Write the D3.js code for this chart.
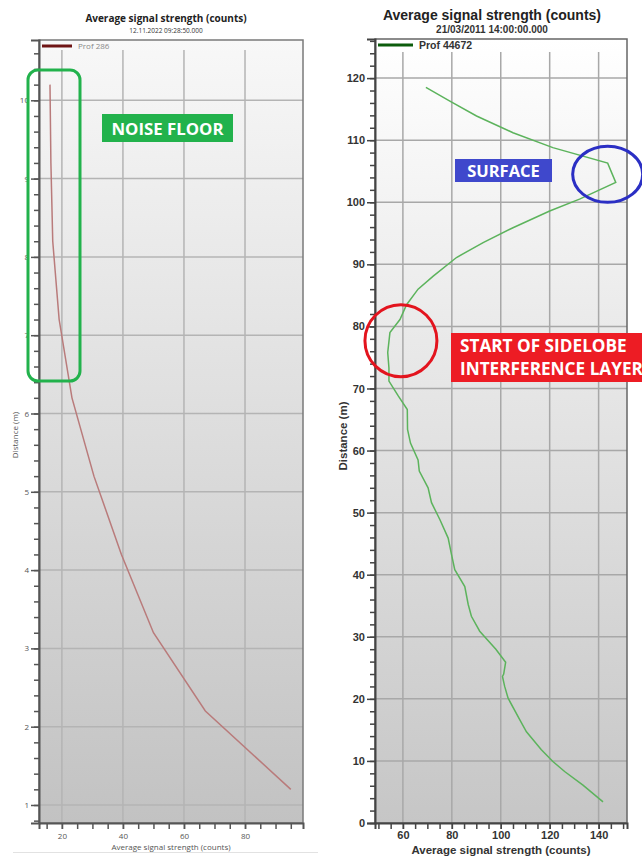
<!DOCTYPE html>
<html>
<head>
<meta charset="utf-8">
<script src="https://cdn.jsdelivr.net/npm/d3@7"></script>
<style>
  body { margin: 0; background: #fff; }
  svg { display: block; }
</style>
</head>
<body>
<div id="chart"></div>
<script>
// left profile (Prof 286)
const leftDistance = [1.2, 2.2, 3.2, 4.2, 5.2, 6.2, 7.2, 8.2, 9.2, 10.2]
const leftSignal = [95, 67, 50, 39.5, 30.5, 23.3, 19.1, 17.0, 16.4, 16.1]
const leftXTicks = [20, 40, 60, 80]
const leftYTicks = [1, 2, 3, 4, 5, 6, 7, 8, 9, 10]

// right profile (Prof 44672)
const rightDistance = [3.4, 6.1, 8.3, 9.9, 11.8, 14.7, 16.6, 20.1, 22.0, 23.6, 24.0, 25.9, 28.0,
  30.9, 33.3, 35.2, 38.1, 40.8, 43.2, 45.9, 48.9, 51.6, 54.0, 56.7, 58.5, 61.2, 63.4, 66.6,
  68.8, 71.2, 73.3, 75.8, 79.0, 81.1, 83.5, 86.0, 88.1, 91.1, 93.5, 95.9, 98.6, 100.5, 103.2,
  106.3, 108.8, 111.2, 113.9, 116.3, 118.5]
const rightSignal = [141.8, 133.6, 126.1, 121.3, 116.6, 110.5, 107.8, 103.0, 101.6, 100.7, 101.2, 102.0, 98.0,
  91.4, 88.0, 86.7, 85.3, 81.2, 79.9, 78.5, 75.1, 71.7, 70.3, 66.7, 66.2, 63.1, 61.9, 61.8,
  58.1, 54.3, 54.3, 53.8, 54.7, 58.8, 61.5, 66.2, 72.4, 81.9, 92.8, 105.0, 120.0, 132.2, 147.0,
  143.7, 121.3, 105.0, 90.1, 79.2, 69.4]
const rightXTicks = [60, 80, 100, 120, 140]
const rightYTicks = [0, 10, 20, 30, 40, 50, 60, 70, 80, 90, 100, 110, 120]

const width = 642
const height = 856

const svg = d3.select('#chart')
  .append('svg')
  .attr('width', width)
  .attr('height', height)

const defs = svg.append('defs')

function gradient(id, top, bottom) {
  const g = defs.append('linearGradient')
    .attr('id', id)
    .attr('x1', 0).attr('y1', 0)
    .attr('x2', 0).attr('y2', 1)
  g.append('stop').attr('offset', '0%').attr('stop-color', top)
  g.append('stop').attr('offset', '100%').attr('stop-color', bottom)
}
gradient('bgLeft', '#f8f8f8', '#c2c2c2')
gradient('bgRight', '#ffffff', '#c6c6c6')

function panel(opt) {
  const x = d3.scaleLinear().domain(opt.xDomain).range([opt.box.left, opt.box.right])
  const y = d3.scaleLinear().domain(opt.yDomain).range([opt.box.bottom, opt.box.top])
  const g = svg.append('g')
  const b = opt.box

  g.append('rect')
    .attr('x', b.left).attr('y', b.top)
    .attr('width', b.right - b.left).attr('height', b.bottom - b.top)
    .attr('fill', `url(#${opt.bg})`)

  // grid
  const grid = g.append('g')
  grid.selectAll('.vx')
    .data(opt.xTicks)
    .join('line')
    .attr('x1', d => x(d)).attr('x2', d => x(d))
    .attr('y1', b.top + opt.legendBand).attr('y2', b.bottom)
    .attr('stroke', opt.gridColor).attr('stroke-width', 1.5)
  grid.selectAll('.hy')
    .data(opt.yTicks.filter(d => y(d) < b.bottom - 1 && y(d) > b.top + opt.legendBand))
    .join('line')
    .attr('x1', b.left).attr('x2', b.right)
    .attr('y1', d => y(d)).attr('y2', d => y(d))
    .attr('stroke', opt.gridColor).attr('stroke-width', 1.5)

  // data line
  const pts = opt.distance.map((d, i) => [opt.signal[i], d])
  g.append('path')
    .datum(pts)
    .attr('fill', 'none')
    .attr('stroke', opt.lineColor)
    .attr('stroke-width', 1.5)
    .attr('d', d3.line().x(d => x(d[0])).y(d => y(d[1])))

  // border
  g.append('rect')
    .attr('x', b.left).attr('y', b.top)
    .attr('width', b.right - b.left).attr('height', b.bottom - b.top)
    .attr('fill', 'none').attr('stroke', opt.borderColor).attr('stroke-width', 1.5)

  // axes: minor ticks then major with labels
  const xMinor = d3.range(opt.xMinor[0], opt.xMinor[1] + 0.001, opt.xMinor[2])
  const yMinor = d3.range(opt.yMinor[0], opt.yMinor[1] + 0.001, opt.yMinor[2])

  g.append('g')
    .attr('transform', `translate(0,${b.bottom})`)
    .call(d3.axisBottom(x).tickValues(xMinor).tickSize(6).tickFormat(''))
    .call(a => a.select('.domain').remove())
    .selectAll('line').attr('stroke', opt.axisColor).attr('stroke-width', 1.5)

  g.append('g')
    .attr('transform', `translate(0,${b.bottom})`)
    .call(d3.axisBottom(x).tickValues(opt.xTicks).tickSize(6).tickPadding(opt.xPad))
    .call(a => a.select('.domain').attr('stroke', opt.axisColor).attr('stroke-width', 2))
    .call(a => a.selectAll('line').attr('stroke', opt.axisColor).attr('stroke-width', 1.5))
    .call(a => a.selectAll('text')
      .attr('font-family', opt.font).attr('font-size', opt.tickSize)
      .attr('font-weight', opt.tickWeight).attr('fill', opt.textColor))

  g.append('g')
    .attr('transform', `translate(${b.left},0)`)
    .call(d3.axisLeft(y).tickValues(yMinor).tickSize(5).tickFormat(''))
    .call(a => a.select('.domain').remove())
    .selectAll('line').attr('stroke', opt.axisColor).attr('stroke-width', 1.5)

  g.append('g')
    .attr('transform', `translate(${b.left},0)`)
    .call(d3.axisLeft(y).tickValues(opt.yTicks).tickSize(8).tickPadding(2))
    .call(a => a.select('.domain').attr('stroke', opt.axisColor).attr('stroke-width', 2))
    .call(a => a.selectAll('line').attr('stroke', opt.axisColor).attr('stroke-width', 1.5))
    .call(a => a.selectAll('text')
      .attr('font-family', opt.font).attr('font-size', opt.tickSize)
      .attr('font-weight', opt.tickWeight).attr('fill', opt.textColor))

  // titles
  const cx = (b.left + b.right) / 2
  g.append('text')
    .attr('x', opt.titleX).attr('y', opt.titleY)
    .attr('text-anchor', 'middle')
    .attr('font-family', opt.font).attr('font-weight', 'bold')
    .attr('font-size', opt.titleSize).attr('fill', '#222')
    .text('Average signal strength (counts)')
  g.append('text')
    .attr('x', opt.titleX).attr('y', opt.subY)
    .attr('text-anchor', 'middle')
    .attr('font-family', opt.font).attr('font-weight', opt.subWeight)
    .attr('font-size', opt.subSize).attr('fill', '#333')
    .text(opt.subtitle)

  g.append('text')
    .attr('x', cx).attr('y', opt.xLabelY)
    .attr('text-anchor', 'middle')
    .attr('font-family', opt.font).attr('font-weight', opt.labelWeight)
    .attr('font-size', opt.labelSize).attr('fill', opt.textColor)
    .text('Average signal strength (counts)')
  g.append('text')
    .attr('transform', `translate(${opt.yLabelX},${opt.yLabelY}) rotate(-90)`)
    .attr('text-anchor', 'middle')
    .attr('font-family', opt.font).attr('font-weight', opt.labelWeight)
    .attr('font-size', opt.labelSize).attr('fill', opt.textColor)
    .text('Distance (m)')

  // legend
  g.append('line')
    .attr('x1', b.left + 3).attr('x2', b.left + opt.legendLen)
    .attr('y1', b.top + 6).attr('y2', b.top + 6)
    .attr('stroke', opt.legendColor).attr('stroke-width', 3)
  g.append('text')
    .attr('x', b.left + opt.legendLen + 6).attr('y', b.top + 6)
    .attr('dy', '0.35em')
    .attr('font-family', opt.font).attr('font-weight', opt.subWeight)
    .attr('font-size', opt.legendSize).attr('fill', opt.legendText)
    .text(opt.legend)

  return { x, y, g }
}

const left = panel({
  box: { left: 39, right: 303, top: 40, bottom: 823 },
  xDomain: [12.5, 99], yDomain: [0.77, 10.77],
  xTicks: leftXTicks, yTicks: leftYTicks,
  xMinor: [15, 95, 5], yMinor: [0.8, 10.6, 0.2],
  distance: leftDistance, signal: leftSignal,
  bg: 'bgLeft', gridColor: '#b4b4b4', borderColor: '#7a7a7a', axisColor: '#555',
  lineColor: '#b97b7b', legendColor: '#6e1414', legendLen: 33, legend: 'Prof 286',
  legendText: '#888', legendSize: 8, legendBand: 10, xPad: 4,
  font: '"Open Sans", "DejaVu Sans", sans-serif', tickSize: 8, tickWeight: 'normal',
  textColor: '#555', titleX: 166, titleY: 22, titleSize: 10, subY: 33, subSize: 6.5,
  subWeight: 'normal', subtitle: '12.11.2022 09:28:50.000',
  xLabelY: 850, yLabelX: 18, yLabelY: 435, labelSize: 8, labelWeight: 'normal'
})

const right = panel({
  box: { left: 375, right: 627, top: 39, bottom: 823 },
  xDomain: [48.6, 151.6], yDomain: [0, 126.3],
  xTicks: rightXTicks, yTicks: rightYTicks,
  xMinor: [50, 150, 5], yMinor: [0, 126, 2],
  distance: rightDistance, signal: rightSignal,
  bg: 'bgRight', gridColor: '#a8a8a8', borderColor: '#666', axisColor: '#444',
  lineColor: '#5cb35c', legendColor: '#0c5c0c', legendLen: 38, legend: 'Prof 44672',
  legendText: '#333', legendSize: 10.5, legendBand: 13, xPad: 2,
  font: '"Liberation Sans", Arial, sans-serif', tickSize: 11, tickWeight: 'bold',
  textColor: '#333', titleX: 492, titleY: 20, titleSize: 14, subY: 33, subSize: 10,
  subWeight: 'bold', subtitle: '21/03/2011 14:00:00.000',
  xLabelY: 854, yLabelX: 347, yLabelY: 436, labelSize: 11.5, labelWeight: 'bold'
})

// annotations
const ann = svg.append('g').attr('font-family', '"Open Sans", sans-serif').attr('font-weight', 'bold')

ann.append('rect')
  .attr('x', 28).attr('y', 70).attr('width', 52).attr('height', 311).attr('rx', 10)
  .attr('fill', 'none').attr('stroke', '#22b24c').attr('stroke-width', 3)

function label(x0, y0, w, h, color, lines, size) {
  ann.append('rect').attr('x', x0).attr('y', y0).attr('width', w).attr('height', h).attr('fill', color)
  lines.forEach((t, i) => {
    ann.append('text')
      .attr('x', lines.length > 1 ? x0 + 9 : x0 + w / 2)
      .attr('y', y0 + (lines.length > 1 ? 19 + i * 23 : h / 2 + 1))
      .attr('dy', lines.length > 1 ? 0 : '0.35em')
      .attr('text-anchor', lines.length > 1 ? 'start' : 'middle')
      .attr('font-size', size).attr('fill', '#fff')
      .text(t)
  })
}

label(102, 114, 131, 28, '#22b24c', ['NOISE FLOOR'], 16.8)
label(455, 159, 97, 23, '#3f48cc', ['SURFACE'], 16.5)
label(451, 333, 200, 49, '#ed1c24', ['START OF SIDELOBE', 'INTERFERENCE LAYER'], 17.2)

ann.append('ellipse')
  .attr('cx', right.x(143.7)).attr('cy', right.y(104.5)).attr('rx', 35).attr('ry', 28)
  .attr('fill', 'none').attr('stroke', '#2b2fc4').attr('stroke-width', 3)
ann.append('circle')
  .attr('cx', right.x(59.2)).attr('cy', right.y(77.7)).attr('r', 36)
  .attr('fill', 'none').attr('stroke', '#e3141e').attr('stroke-width', 3)

// thin separator under left chart
svg.append('line')
  .attr('x1', 13).attr('x2', 318).attr('y1', 852.5).attr('y2', 852.5)
  .attr('stroke', '#e2e2e2').attr('stroke-width', 1)
</script>
</body>
</html>
